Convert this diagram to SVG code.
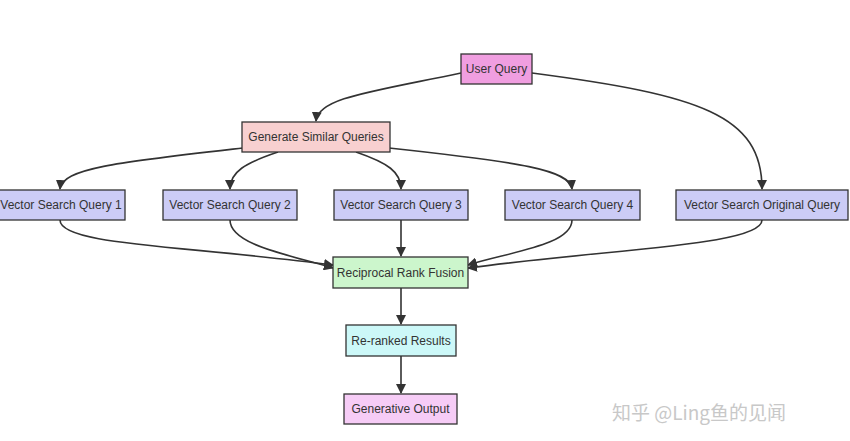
<svg xmlns="http://www.w3.org/2000/svg" width="850" height="441" viewBox="0 0 850 441">
<style>
.n rect{stroke:#333;stroke-width:1.3}
.n text{font-family:"Liberation Sans",Arial,sans-serif;font-size:12px;fill:#333;text-anchor:middle;dominant-baseline:central}
.vs rect{fill:#ccccf6}
.e path{fill:none;stroke:#333;stroke-width:1.6}
.wm{font-family:"Noto Sans CJK SC","Liberation Sans",sans-serif;font-size:19px;fill:#c8c8c8}
</style>
<defs>
<marker id="ah" viewBox="0 0 10 10" refX="9" refY="5" markerWidth="10" markerHeight="10" markerUnits="userSpaceOnUse" orient="auto">
<path d="M0,0 L10,5 L0,10 z" fill="#333"/>
</marker>
</defs>
<rect width="850" height="441" fill="#fff"/>
<g class="e">
<path d="M461,73 C 370,92 318,98 316,121" marker-end="url(#ah)"/>
<path d="M532,73 C 700,95 762,115 762,189" marker-end="url(#ah)"/>
<path d="M243,148 C 120,162 62,168 60,189" marker-end="url(#ah)"/>
<path d="M278,152 C 245,163 230,172 230,189" marker-end="url(#ah)"/>
<path d="M356,152 C 388,163 401,172 401,189" marker-end="url(#ah)"/>
<path d="M389,148 C 520,162 570,170 572,189" marker-end="url(#ah)"/>
<path d="M60,220 C 60,245 180,245 333,265" marker-end="url(#ah)"/>
<path d="M230,220 C 230,245 290,255 333,268" marker-end="url(#ah)"/>
<path d="M401,220 L401,256" marker-end="url(#ah)"/>
<path d="M572,220 C 572,245 510,252 468,265" marker-end="url(#ah)"/>
<path d="M762,220 C 762,245 620,248 468,268" marker-end="url(#ah)"/>
<path d="M401,288 L401,324" marker-end="url(#ah)"/>
<path d="M401,356 L401,393" marker-end="url(#ah)"/>
</g>
<g id="userQuery" class="n"><rect x="461" y="54" width="71" height="30" fill="#f09ee0"/><text x="496.5" y="69">User Query</text></g>
<g id="generate" class="n"><rect x="242" y="122" width="148" height="30" fill="#f8d0d0"/><text x="316" y="137">Generate Similar Queries</text></g>
<g id="vsq1" class="n vs"><rect x="-8" y="190" width="133" height="30"/><text x="61" y="205">Vector Search Query 1</text></g>
<g id="vsq2" class="n vs"><rect x="163" y="190" width="134" height="30"/><text x="230" y="205">Vector Search Query 2</text></g>
<g id="vsq3" class="n vs"><rect x="334" y="190" width="134" height="30"/><text x="401" y="205">Vector Search Query 3</text></g>
<g id="vsq4" class="n vs"><rect x="505" y="190" width="135" height="30"/><text x="572.5" y="205">Vector Search Query 4</text></g>
<g id="vsqo" class="n vs"><rect x="676" y="190" width="172" height="30"/><text x="762" y="205">Vector Search Original Query</text></g>
<g id="rrf" class="n"><rect x="333" y="257" width="135" height="31" fill="#ccf6cc"/><text x="400.5" y="272.5">Reciprocal Rank Fusion</text></g>
<g id="reranked" class="n"><rect x="346" y="325" width="110" height="31" fill="#ccf8f8"/><text x="401" y="340.5">Re-ranked Results</text></g>
<g id="genout" class="n"><rect x="344" y="394" width="113" height="30" fill="#f6ccf6"/><text x="400.5" y="409">Generative Output</text></g>
<text class="wm" x="612" y="420">知乎 @Ling鱼的见闻</text>
</svg>
